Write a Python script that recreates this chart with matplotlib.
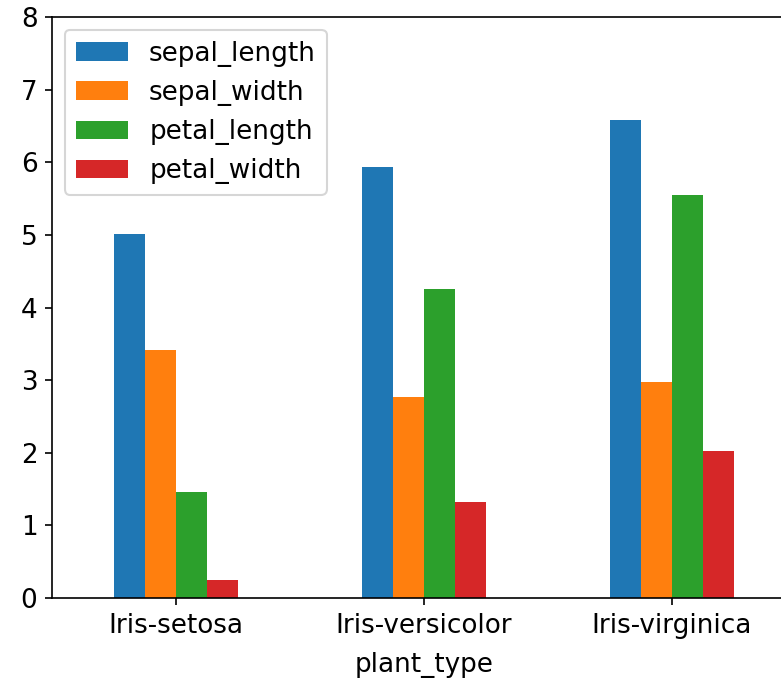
import numpy as np
import pandas as pd
import matplotlib
matplotlib.use("Agg")
import matplotlib.pyplot as plt

plant_type = ["Iris-setosa", "Iris-versicolor", "Iris-virginica"]
sepal_length = [5.006, 5.936, 6.588]
sepal_width = [3.418, 2.770, 2.974]
petal_length = [1.464, 4.260, 5.552]
petal_width = [0.244, 1.326, 2.026]

df = pd.DataFrame({
    "sepal_length": sepal_length,
    "sepal_width": sepal_width,
    "petal_length": petal_length,
    "petal_width": petal_width,
}, index=pd.Index(plant_type, name="plant_type"))

plt.rcParams["font.size"] = 12.6

fig = plt.figure(figsize=(782 / 150, 682 / 150), dpi=150)
# axes run past the right edge of the image (right spine is cut off)
ax = fig.add_axes([52 / 782, 84 / 682, 744 / 782, 581 / 682])
df.plot(kind="bar", ax=ax, rot=0)
ax.set_ylim(0, 8)
ax.set_xlabel("plant_type", labelpad=6.5)
ax.legend(loc="upper left")

fig.savefig("out.png", dpi=150)
